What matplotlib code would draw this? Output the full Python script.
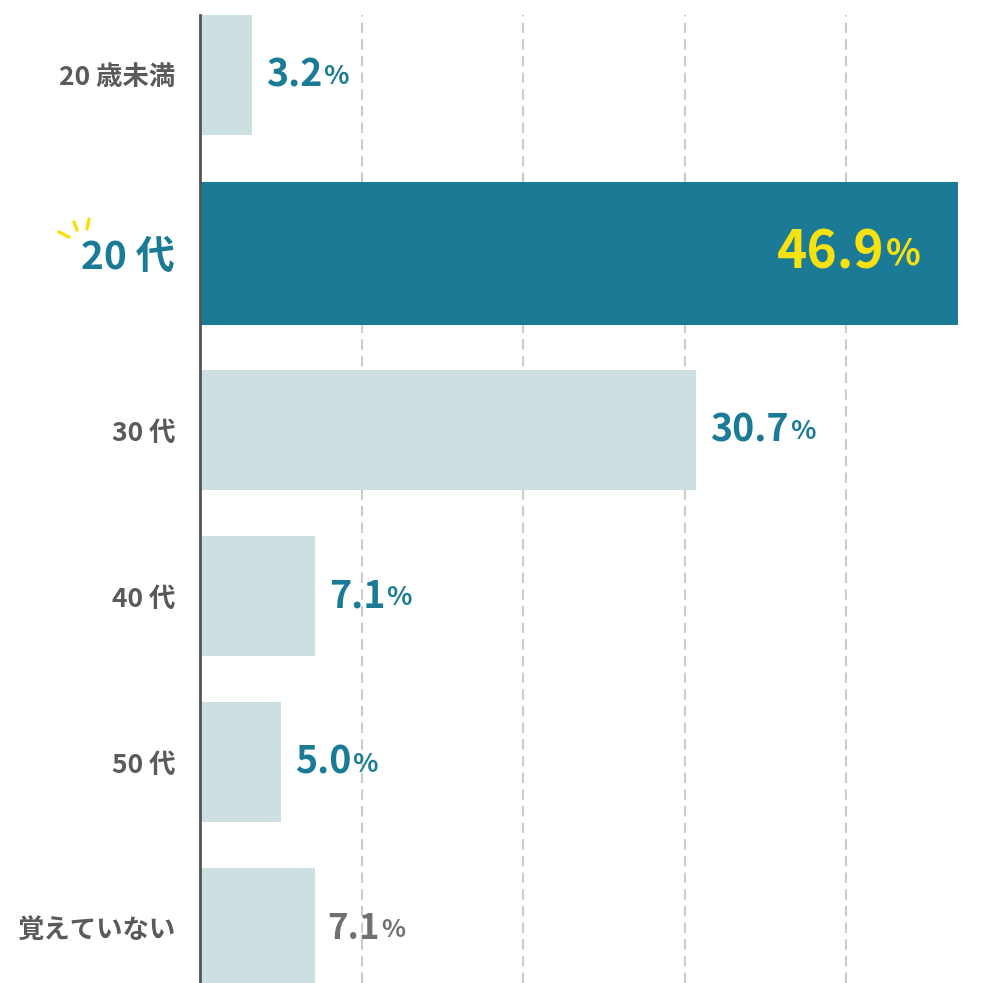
import matplotlib
matplotlib.use('Agg')
import matplotlib.pyplot as plt
from matplotlib.lines import Line2D

plt.rcParams['font.family'] = ['Noto Sans CJK JP', 'DejaVu Sans']

# data
categories = ['20 歳未満', '20 代', '30 代', '40 代', '50 代', '覚えていない']
values = [3.2, 46.9, 30.7, 7.1, 5.0, 7.1]
highlight = 1

light = '#cde0e1'
teal = '#1b7b97'
yellow = '#f7e10f'
gray = '#5a5a5a'

# row centres (highlighted row gets a bit more room)
pos = [0, 1.075, 2.14, 3.14, 4.14, 5.14]
heights = [0.86 if i == highlight else 0.72 for i in range(len(values))]
colors = [teal if i == highlight else light for i in range(len(values))]

fig = plt.figure(figsize=(10, 9.83), dpi=100)
ax = fig.add_axes([0.2, 0, 0.8, 968 / 983])

ax.barh(pos, values, height=heights, color=colors, zorder=2)

ax.set_xlim(0, 49.5)
ax.set_ylim(5.47, -0.36)

# grid
for gx in [10, 20, 30, 40]:
    ax.axvline(gx, color='#cccccc', lw=1.5, linestyle=(0, (5, 3)), zorder=1)

for s in ['top', 'right', 'bottom']:
    ax.spines[s].set_visible(False)
ax.spines['left'].set_color('#555555')
ax.spines['left'].set_linewidth(2)
ax.spines['left'].set_zorder(3)
ax.set_xticks([])
ax.set_yticks(pos, categories)
ax.tick_params(axis='y', length=0, pad=18)
for i, lab in enumerate(ax.get_yticklabels()):
    lab.set_fontweight('bold')
    if i == highlight:
        lab.set_fontsize(28)
        lab.set_color(teal)
    else:
        lab.set_fontsize(19)
        lab.set_color(gray)

# value labels
for i, v in enumerate(values):
    num = f'{v:.1f}'
    if i == highlight:
        t = ax.annotate(num, xy=(v, pos[i]), xytext=(-53, 0), textcoords='offset points',
                        ha='right', va='center', fontsize=37, fontweight='bold',
                        color=yellow, zorder=4)
        ax.annotate('%', xy=(1, 0), xycoords=t, xytext=(1, 5), textcoords='offset points',
                    ha='left', va='bottom', fontsize=26, fontweight='bold', color=yellow, zorder=4)
    elif i == len(values) - 1:
        t = ax.annotate(num, xy=(v, pos[i]), xytext=(9, 0), textcoords='offset points',
                        ha='left', va='center', fontsize=25, fontweight='bold',
                        color='#707070', zorder=4)
        ax.annotate('%', xy=(1, 0), xycoords=t, xytext=(1, 3), textcoords='offset points',
                    ha='left', va='bottom', fontsize=18, fontweight='bold', color='#707070', zorder=4)
    else:
        t = ax.annotate(num, xy=(v, pos[i]), xytext=(10, 0), textcoords='offset points',
                        ha='left', va='center', fontsize=27, fontweight='bold',
                        color=teal, zorder=4)
        ax.annotate('%', xy=(1, 0), xycoords=t, xytext=(1, 3), textcoords='offset points',
                    ha='left', va='bottom', fontsize=19, fontweight='bold', color=teal, zorder=4)

# little sparkle next to the highlighted label
H = 983.0
W = 1000.0
strokes = [((59, 232), (69, 237)), ((74, 222), (77, 230)), ((89, 219), (87, 229))]
for (x0, y0), (x1, y1) in strokes:
    fig.add_artist(Line2D([x0 / W, x1 / W], [1 - y0 / H, 1 - y1 / H],
                          color=yellow, lw=2.5, solid_capstyle='round'))

fig.savefig('out.png', dpi=100)
